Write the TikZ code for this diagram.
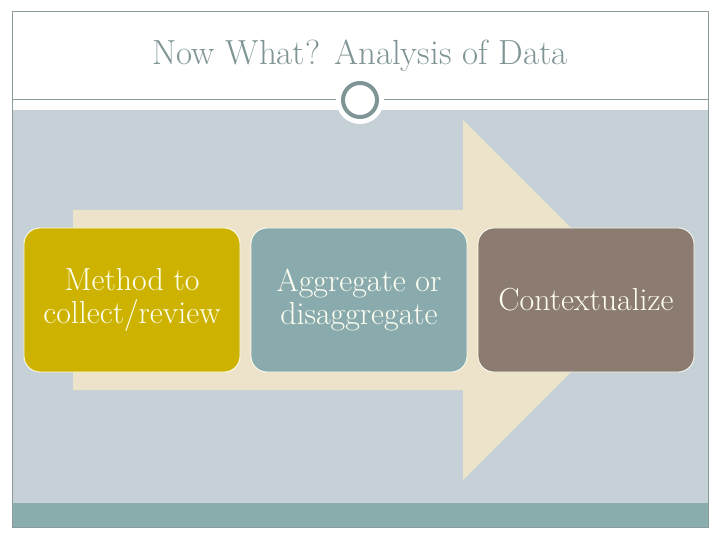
\documentclass[tikz,border=0pt]{standalone}
\usetikzlibrary{positioning}
\usepackage{xcolor}
\definecolor{slate}{HTML}{C5D1D7}
\definecolor{cream}{HTML}{EDE3CB}
\definecolor{teal}{HTML}{8AADAD}
\definecolor{mustard}{HTML}{CDB300}
\definecolor{seafoam}{HTML}{8AABAD}
\definecolor{taupe}{HTML}{8B7B70}
\definecolor{frame}{HTML}{8A9C9C}
\definecolor{heading}{HTML}{7F9595}
\definecolor{ivory}{HTML}{FFFFF2}

\begin{document}
\begin{tikzpicture}[x=1bp, y=-1bp, node distance=11bp,
    stepbox/.style={draw=ivory, line width=0.8bp, outer sep=0pt, rounded corners=16bp, minimum width=216bp, minimum height=144bp,
      text=ivory, align=center, font=\fontsize{32}{33}\selectfont}]
  \useasboundingbox (0,0) rectangle (720,540);
  % slide frame
  \fill[white] (12,12) rectangle (708,527);
  \fill[slate] (12,110) rectangle (708,503);
  \fill[teal] (12,503) rectangle (708,527);
  \draw[frame, line width=1bp] (12,12) rectangle (708,527);
  \draw[frame, line width=1bp] (12,100) -- (708,100);
  \node[circle, fill=white, minimum size=48bp, inner sep=0pt] (ring) at (360,100) {};
  \draw[heading, line width=4bp] (ring.center) circle[radius=17bp];
  \node[text=heading, font=\fontsize{35}{40}\selectfont] (title) at (360,56) {Now What? Analysis of Data};
  % big arrow
  \fill[cream] (73,210) -- (463,210) -- (463,120) -- (643,300) -- (463,480) -- (463,390) -- (73,390) -- cycle;
  % steps
  \node[stepbox, fill=mustard] (collect) at (132,300) {Method to\\collect/review};
  \node[stepbox, fill=seafoam, right=of collect] (aggr) {Aggregate or\\disaggregate};
  \node[stepbox, fill=taupe, right=of aggr] (context) {Contextualize};
\end{tikzpicture}
\end{document}
